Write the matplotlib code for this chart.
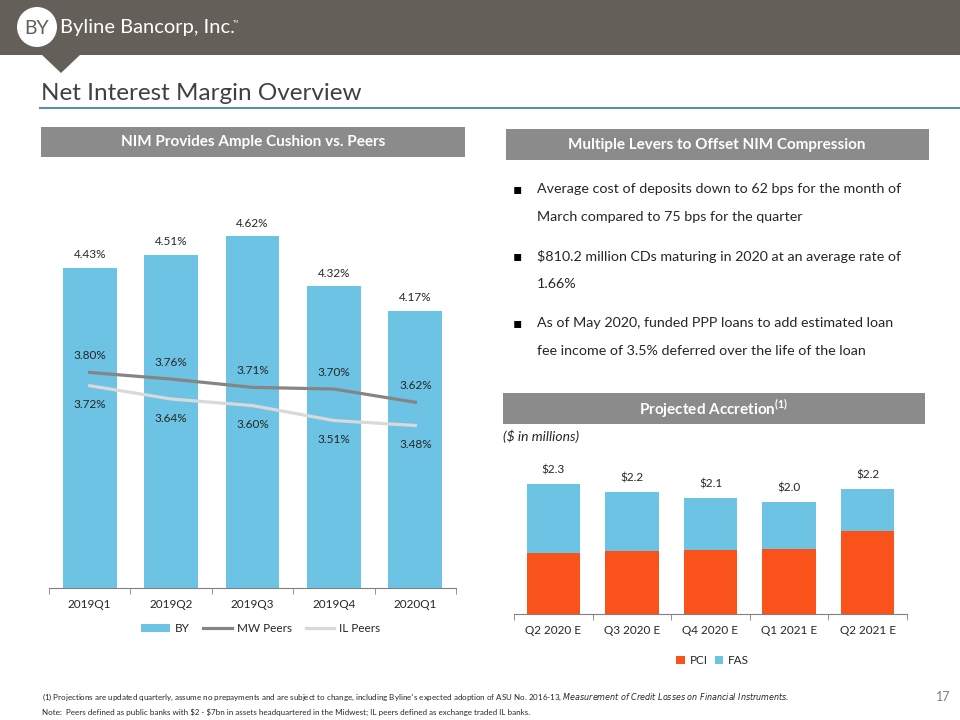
import matplotlib.pyplot as plt
import numpy as np
from matplotlib.patches import Rectangle, Polygon, Circle

plt.rcParams['font.family'] = ['Lato', 'DejaVu Sans']

# left chart data
quarters = ['2019Q1', '2019Q2', '2019Q3', '2019Q4', '2020Q1']
by_nim = [4.43, 4.51, 4.62, 4.32, 4.17]
mw_peers = [3.80, 3.76, 3.71, 3.70, 3.62]
il_peers = [3.72, 3.64, 3.60, 3.51, 3.48]

# right chart data ($ millions)
periods = ['Q2 2020 E', 'Q3 2020 E', 'Q4 2020 E', 'Q1 2021 E', 'Q2 2021 E']
pci = [1.09, 1.12, 1.14, 1.16, 1.48]
fas = [1.23, 1.06, 0.93, 0.84, 0.75]
total_labels = ['$2.3', '$2.2', '$2.1', '$2.0', '$2.2']

bullets = [
    ['Average cost of deposits down to 62 bps for the month of',
     'March compared to 75 bps for the quarter'],
    ['$810.2 million CDs maturing in 2020 at an average rate of',
     '1.66%'],
    ['As of May 2020, funded PPP loans to add estimated loan',
     'fee income of 3.5% deferred over the life of the loan'],
]

BLUE = '#6dc3e4'
ORANGE = '#f9521b'
HEAD = '#646059'
BOXGREY = '#8b8b8b'
TXT = '#262626'

W, H = 960, 720
fig = plt.figure(figsize=(9.6, 7.2), dpi=100)


def fx(x):
    return x / W


def fy(y):
    return 1 - y / H


def box(x0, y0, x1, y1, color):
    fig.patches.append(Rectangle((fx(x0), fy(y1)), fx(x1) - fx(x0), fy(y0) - fy(y1),
                                 transform=fig.transFigure, color=color, lw=0))


# header
box(0, 0, 960, 55, HEAD)
fig.patches.append(Polygon([(fx(41), fy(54)), (fx(81), fy(54)), (fx(61), fy(73))],
                           closed=True, transform=fig.transFigure, color=HEAD, lw=0))
# logo circle, in inches so it stays round
fig.patches.append(Circle((0.37, 7.2 - 0.27), 0.20, transform=fig.dpi_scale_trans,
                          color='white', lw=0))
fig.text(fx(37), fy(28), 'BY', fontsize=14, color=HEAD, ha='center', va='center')
fig.text(fx(60), fy(28), 'Byline Bancorp, Inc.', fontsize=14.5, color='white',
         ha='left', va='center')
fig.text(fx(233), fy(22), 'TM', fontsize=3, color='white', ha='left', va='center')

# title
fig.text(fx(41), fy(93), 'Net Interest Margin Overview', fontsize=17.5, color='#404040',
         ha='left', va='center')
fig.add_artist(plt.Line2D([fx(40), fx(960)], [fy(108), fy(108)], color='#5b8db5',
                          lw=1.5, transform=fig.transFigure))

# section headers
box(41, 127, 465, 157, BOXGREY)
fig.text(fx(253), fy(142), 'NIM Provides Ample Cushion vs. Peers', fontsize=11,
         color='white', fontweight='bold', ha='center', va='center')
box(506, 129, 929, 160, BOXGREY)
fig.text(fx(717), fy(145), 'Multiple Levers to Offset NIM Compression', fontsize=11,
         color='white', fontweight='bold', ha='center', va='center')
box(503, 393, 925, 424, BOXGREY)
fig.text(fx(714), fy(409), r'Projected Accretion$^{\mathregular{(1)}}$', fontsize=11,
         color='white', fontweight='bold', ha='center', va='center')

# bullets
yb = 189
for b in bullets:
    fig.text(fx(513), fy(yb), '\u25aa', fontsize=10, color='black', ha='left', va='center',
             family=['DejaVu Sans'])
    for line in b:
        fig.text(fx(537), fy(yb), line, fontsize=10.3, color=TXT, ha='left', va='center')
        yb += 28
    yb += 11

fig.text(fx(503), fy(436), '($ in millions)', fontsize=10, style='italic', color=TXT,
         ha='left', va='center')

# left chart
ax = fig.add_axes([fx(49), fy(588), fx(456) - fx(49), fy(200) - fy(588)])
x = np.arange(len(quarters))
b1 = ax.bar(x, by_nim, width=0.66, color=BLUE, label='BY', zorder=1)
l1, = ax.plot(x, mw_peers, color='#858585', lw=2.3, label='MW Peers', zorder=2)
l2, = ax.plot(x, il_peers, color='#d9d9d9', lw=2.3, label='IL Peers', zorder=2)
ax.set_ylim(2.5, 4.84)
ax.set_xlim(-0.5, len(quarters) - 0.5)
for i in range(len(quarters)):
    ax.annotate(f'{by_nim[i]:.2f}%', (x[i], by_nim[i]), xytext=(0, 9.5),
                textcoords='offset points', ha='center', va='center', fontsize=8.5, color=TXT)
    ax.annotate(f'{mw_peers[i]:.2f}%', (x[i], mw_peers[i]), xytext=(0, 12.2),
                textcoords='offset points', ha='center', va='center', fontsize=8.5, color=TXT)
    ax.annotate(f'{il_peers[i]:.2f}%', (x[i], il_peers[i]), xytext=(0, -13.7),
                textcoords='offset points', ha='center', va='center', fontsize=8.5, color=TXT)
for s in ['top', 'left', 'right']:
    ax.spines[s].set_visible(False)
ax.spines['bottom'].set_color('#808080')
ax.set_yticks([])
ax.set_xticks(x)
ax.set_xticklabels(quarters, fontsize=8.5, color=TXT)
ax.tick_params(axis='x', which='major', length=0, pad=8)
ax.set_xticks(np.arange(-0.5, len(quarters)), minor=True)
ax.tick_params(axis='x', which='minor', length=4, color='#808080')
ax.patch.set_alpha(0)
ax.legend([b1, l1, l2], ['BY', 'MW Peers', 'IL Peers'], loc='center',
          bbox_to_anchor=(0.52, -0.105), ncol=3, frameon=False,
          fontsize=8.5, handlelength=2.4, handleheight=0.7, columnspacing=1.2,
          handletextpad=0.4, labelcolor=TXT)

# right chart
ax2 = fig.add_axes([fx(514), fy(614), fx(907) - fx(514), fy(440) - fy(614)])
x2 = np.arange(len(periods))
ax2.bar(x2, pci, width=0.68, color=ORANGE, label='PCI')
ax2.bar(x2, fas, width=0.68, bottom=pci, color=BLUE, label='FAS')
ax2.set_ylim(0, 3.1)
ax2.set_xlim(-0.5, len(periods) - 0.5)
tot = np.array(pci) + np.array(fas)
for i in range(len(periods)):
    ax2.annotate(total_labels[i], (x2[i], tot[i]), xytext=(0, 10),
                 textcoords='offset points', ha='center', va='center', fontsize=8.5, color=TXT)
for s in ['top', 'left', 'right']:
    ax2.spines[s].set_visible(False)
ax2.spines['bottom'].set_color('#808080')
ax2.set_yticks([])
ax2.set_xticks(x2)
ax2.set_xticklabels(periods, fontsize=8.5, color=TXT)
ax2.tick_params(axis='x', which='major', length=0, pad=8)
ax2.set_xticks(np.arange(-0.5, len(periods)), minor=True)
ax2.tick_params(axis='x', which='minor', length=4, color='#808080')
ax2.patch.set_alpha(0)
ax2.legend(loc='center', bbox_to_anchor=(0.505, -0.27), ncol=2, frameon=False,
           fontsize=8.5, handlelength=0.7, handleheight=0.7, columnspacing=0.6,
           handletextpad=0.4, labelcolor=TXT)

# footnotes
fig.text(fx(42), fy(697), '(1) Projections are updated quarterly, assume no prepayments and are subject '
         'to change, including Byline\u2019s expected adoption of ASU No. 2016-13, '
         r'$\mathit{Measurement\ of\ Credit\ Losses\ on\ Financial\ Instruments}$.',
         fontsize=5.8, color=TXT, ha='left', va='center')
fig.text(fx(42), fy(712), r'Note:  Peers defined as public banks with \$2 - \$7bn in assets headquartered '
         'in the Midwest; IL peers defined as exchange traded IL banks.',
         fontsize=5.8, color=TXT, ha='left', va='center')
fig.text(fx(950), fy(697), '17', fontsize=9, color='#808080', ha='right', va='center')

fig.savefig('out.png', dpi=100)
